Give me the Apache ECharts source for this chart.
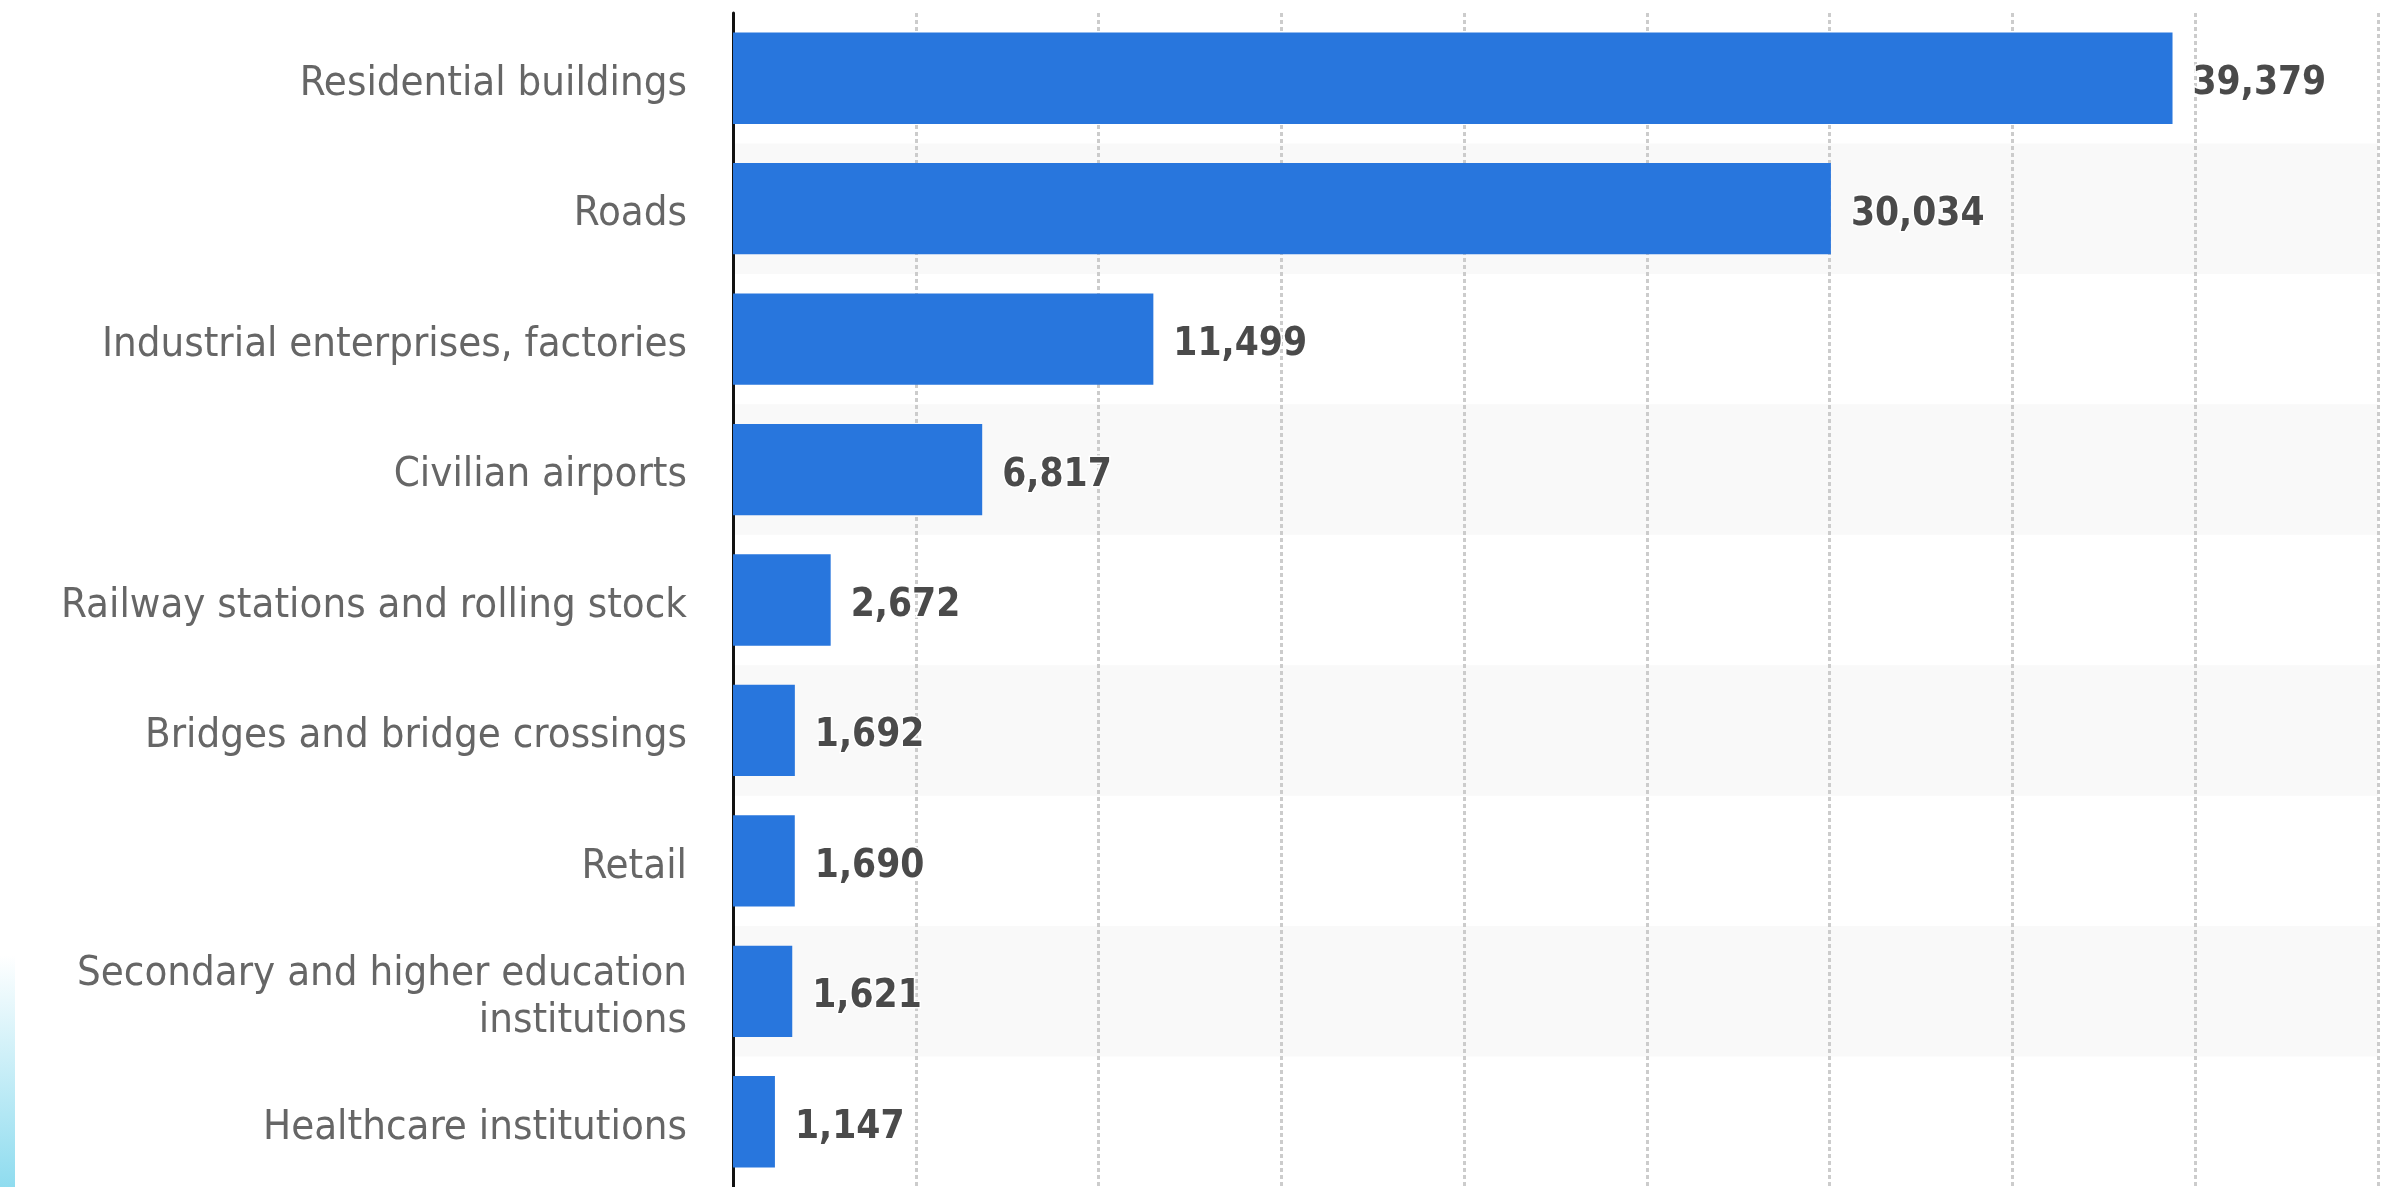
<!DOCTYPE html>
<html>
<head>
<meta charset="utf-8">
<script src="https://cdn.jsdelivr.net/npm/echarts@6/dist/echarts.min.js"></script>
<style>
html,body{margin:0;padding:0;background:#fff;}
#chart{width:2390px;height:1187px;}
</style>
</head>
<body>
<div id="chart"></div>
<script>
const categories = [
  'Residential buildings',
  'Roads',
  'Industrial enterprises, factories',
  'Civilian airports',
  'Railway stations and rolling stock',
  'Bridges and bridge crossings',
  'Retail',
  'Secondary and higher education\ninstitutions',
  'Healthcare institutions'
];
const values = [39379, 30034, 11499, 6817, 2672, 1692, 1690, 1621, 1147];
const xMin = 0;
const xMax = 45000;
const xInterval = 5000;

const FONT = "'DejaVu Sans Condensed', 'DejaVu Sans', Verdana, sans-serif";

const chart = echarts.init(document.getElementById('chart'), null, {renderer: 'canvas'});
chart.setOption({
  animation: false,
  backgroundColor: '#ffffff',
  grid: {left: 733, right: 12, top: 13, bottom: 0, containLabel: false},
  xAxis: {
    type: 'value',
    min: xMin, max: xMax, interval: xInterval,
    axisLine: {show: false},
    axisTick: {show: false},
    axisLabel: {show: false},
    splitLine: {show: true, lineStyle: {color: '#cccccc', width: 3, type: [4, 3]}}
  },
  yAxis: {
    type: 'category',
    inverse: true,
    data: categories,
    axisTick: {show: false},
    axisLine: {show: true, lineStyle: {color: '#111111', width: 3}},
    axisLabel: {
      margin: 46, fontSize: 41.6, color: '#666666', fontFamily: FONT,
      align: 'right',
      formatter: v => v.split('\n').map(s => '{a|' + s + '}').join('\n'),
      rich: {
        a: {fontSize: 41.6, color: '#666666', fontFamily: FONT, lineHeight: 47, padding: [12, 0, 0, 0], align: 'right'}
      }
    },
    splitArea: {show: true, areaStyle: {color: ['rgba(255,255,255,0)', '#f9f9f9']}},
    splitLine: {show: false}
  },
  graphic: [{
    type: 'rect', left: 0, top: 955, z: -10,
    shape: {width: 15, height: 232},
    style: {fill: new echarts.graphic.LinearGradient(0, 0, 0, 1, [
      {offset: 0, color: 'rgba(143,220,239,0)'},
      {offset: 1, color: 'rgba(143,220,239,1)'}
    ])}
  }],
  series: [{
    type: 'bar',
    data: values,
    barCategoryGap: '30%',
    itemStyle: {color: '#2876dd'},
    label: {
      show: true, position: 'right', distance: 20, offset: [0, 6],
      fontSize: 38.5, fontWeight: 'bold', color: '#4a4a4a', fontFamily: FONT,
      textBorderColor: '#ffffff', textBorderWidth: 3,
      formatter: p => p.value.toLocaleString('en-US')
    }
  }]
});
</script>
</body>
</html>
